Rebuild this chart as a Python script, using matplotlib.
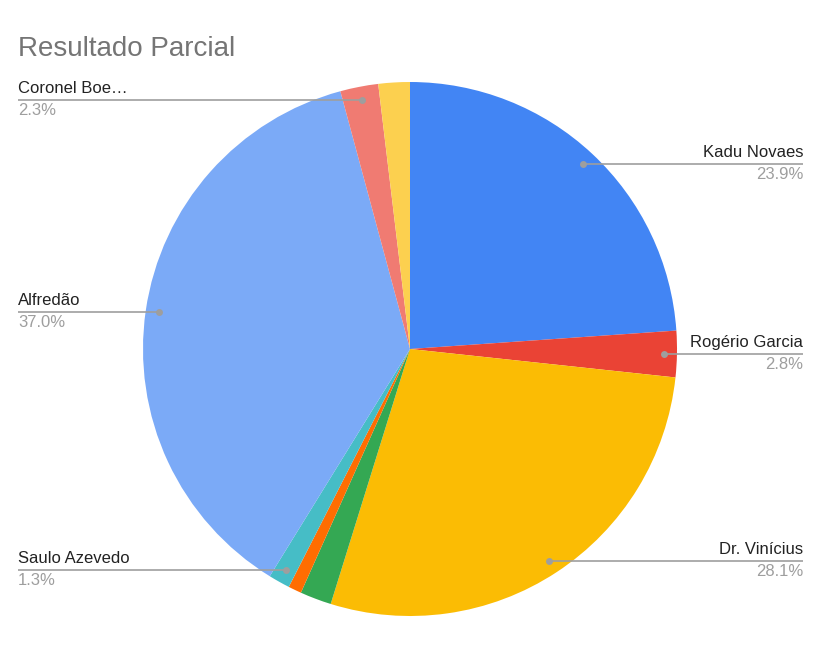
import numpy as np
import matplotlib.pyplot as plt

# dados (sentido horário a partir do topo)
nomes = ["Kadu Novaes", "Rogério Garcia", "Dr. Vinícius", "", "", "Saulo Azevedo",
         "Alfredão", "Coronel Boe…", ""]
valores = [23.9, 2.8, 28.1, 1.9, 0.8, 1.3, 37.0, 2.3, 1.9]
cores = ["#4285F4", "#EA4335", "#FBBC04", "#34A853", "#FF6D01", "#46BDC6",
         "#7BAAF7", "#F07B72", "#FCD04F"]

plt.rcParams['font.family'] = ['Liberation Sans', 'DejaVu Sans']

W, H = 830, 645
fig = plt.figure(figsize=(W / 100, H / 100), dpi=100)
ax = fig.add_axes([0, 0, 1, 1])

cx, cy, r = 410, H - 349, 267
wedges, _ = ax.pie(valores, colors=cores, startangle=90, counterclock=False,
                   center=(cx, cy), radius=r, wedgeprops=dict(linewidth=0),
                   frame=True)
ax.set_xlim(0, W)
ax.set_ylim(0, H)
ax.axis('off')

total = sum(valores)
for w, nome, v in zip(wedges, nomes, valores):
    if not nome:
        continue
    ang = np.deg2rad((w.theta1 + w.theta2) / 2)
    px = cx + 0.95 * r * np.cos(ang)
    py = cy + 0.95 * r * np.sin(ang)
    if px > cx:
        tx, ha = 803, 'right'
    else:
        tx, ha = 18, 'left'
    ax.plot([px, tx], [py, py], color='#9e9e9e', lw=1.2, solid_capstyle='butt')
    ax.plot(px, py, 'o', color='#9e9e9e', ms=5, mec='none')
    ax.text(tx, py + 4, nome, ha=ha, va='bottom', fontsize=12, color='#222222')
    ax.text(tx, py - 3, f"{100 * v / total:.1f}%", ha=ha, va='top',
            fontsize=12, color='#9e9e9e')

fig.text(18 / W, 1 - 56 / H, "Resultado Parcial", fontsize=20, color='#757575',
         ha='left', va='baseline')

fig.savefig('out.png', dpi=100, facecolor='white')
